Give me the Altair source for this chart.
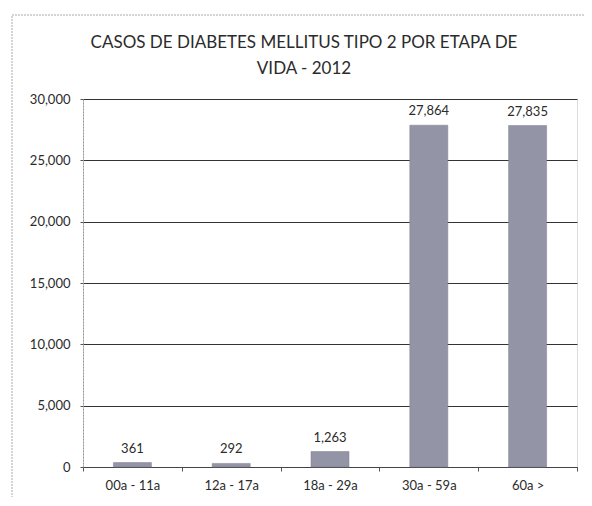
import altair as alt
import pandas as pd

categories = ["00a - 11a", "12a - 17a", "18a - 29a", "30a - 59a", "60a >"]
cases = [361, 292, 1263, 27864, 27835]
y_ticks = [0, 5000, 10000, 15000, 20000, 25000, 30000]
title_lines = ["CASOS DE DIABETES MELLITUS TIPO 2 POR ETAPA DE", "VIDA - 2012"]

df = pd.DataFrame({"etapa": categories, "casos": cases})
FONT = "Lato"
TXT = "#2b2b2b"

x_enc = alt.X(
    "etapa:N", sort=categories, title=None,
    scale=alt.Scale(paddingInner=0, paddingOuter=0),
    axis=alt.Axis(labelAngle=0, tickBand="extent", ticks=True, tickSize=4,
                  tickColor="#555", domainColor="#444", labelFont=FONT,
                  labelFontSize=13, labelColor=TXT, labelPadding=8, grid=False),
)
y_enc = alt.Y(
    "casos:Q", title=None,
    scale=alt.Scale(domain=[0, 30000], nice=False),
    axis=alt.Axis(values=y_ticks, format=",d", labelFont=FONT, labelFontSize=13,
                  labelColor=TXT, labelPadding=10, tickSize=3, tickColor="#555",
                  domainColor="#999", domainDash=[2, 1], grid=True,
                  gridColor="#333", gridWidth=1),
)

bars = alt.Chart(df).mark_bar(size=38, color="#9494a7", stroke="#7d7d90",
                              strokeWidth=0.5).encode(x=x_enc, y=y_enc)
labels = alt.Chart(df).mark_text(baseline="bottom", dy=-7, font=FONT,
                                 fontSize=13, color=TXT).encode(
    x=alt.X("etapa:N", sort=categories),
    y="casos:Q",
    text=alt.Text("casos:Q", format=",d"),
)
border = alt.Chart(alt.Data(values=[{"k": 1}])).mark_rect(
    fill=None, stroke="#aaaaaa", strokeDash=[2, 1], strokeWidth=1
).encode(x=alt.value(-71), x2=alt.value(506), y=alt.value(-84), y2=alt.value(404))

chart = alt.layer(border, bars, labels).properties(
    width=494, height=368,
    title=alt.TitleParams(title_lines, font=FONT, fontSize=17, fontWeight="normal",
                          color=TXT, anchor="middle", dx=-26, dy=83, offset=20,
                          lineHeight=26),
    autosize=alt.AutoSizeParams(type="none"),
    padding={"left": 75, "top": 91, "right": 7, "bottom": 30},
).configure_view(stroke=None).configure(background="white")

chart.save("out.html", embed_options={"renderer": "svg", "actions": False})
